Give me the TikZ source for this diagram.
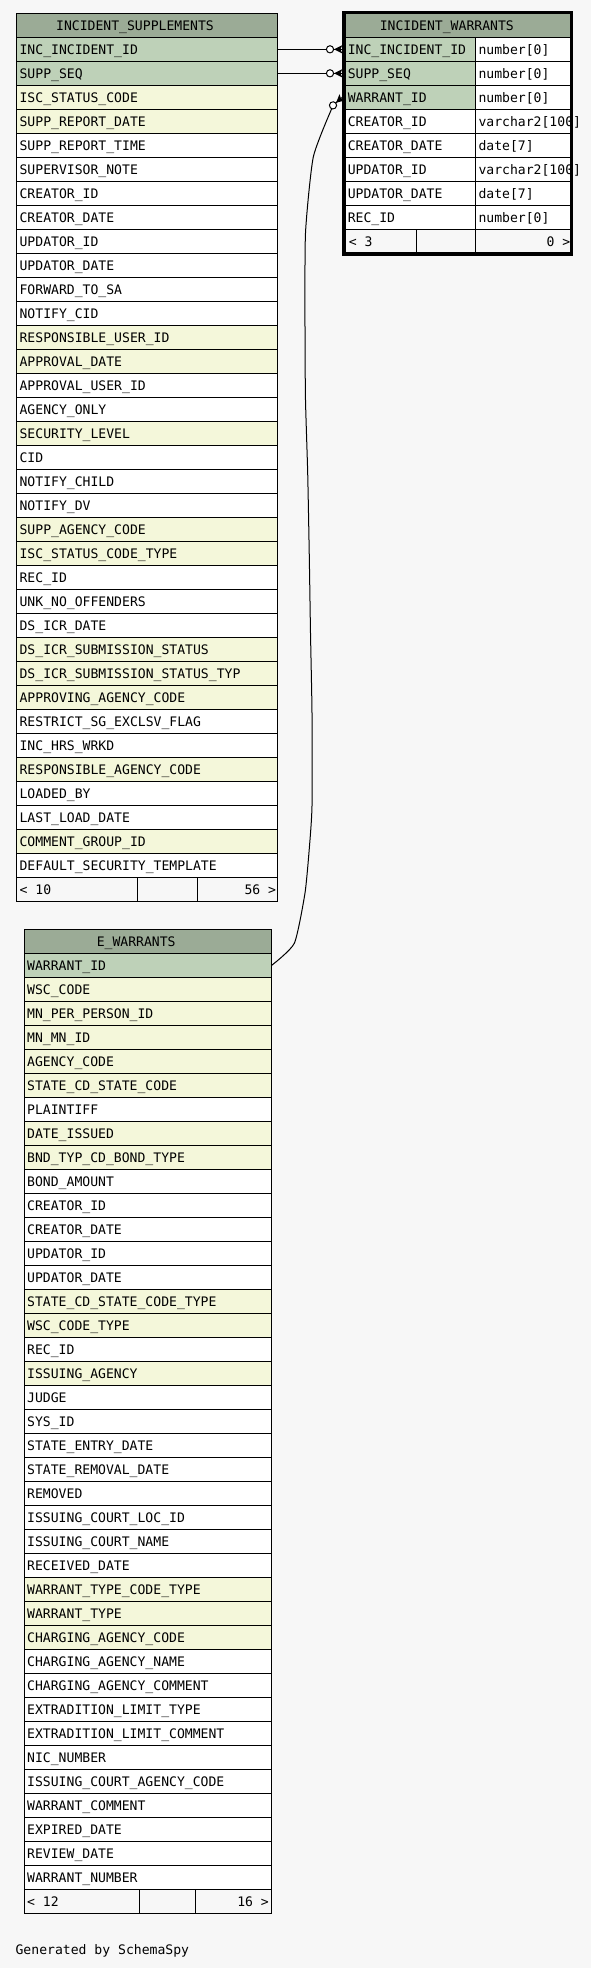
\documentclass[tikz,border=0pt]{standalone}
\usepackage{fontspec}
\newfontfamily\mono{DejaVu Sans Mono}
\definecolor{bgc}{HTML}{F7F7F7}
\definecolor{hdrc}{HTML}{9BAB96}
\definecolor{pkc}{HTML}{BED1B8}
\definecolor{idxc}{HTML}{F4F7DA}
\tikzset{
  mfont/.style={font=\mono\fontsize{13.1}{15}\selectfont},
  rowtext/.style={mfont, anchor=base west, inner sep=0pt},
  hdrtext/.style={mfont, anchor=base, inner sep=0pt},
  foottext/.style={mfont, anchor=base east, inner sep=0pt},
  gridline/.style={line width=1pt, draw=black},
  conn/.style={line width=1pt, draw=black},
  crowodot/.pic={
    \draw[line width=1pt, fill=white] (-12.3,0) circle[radius=3.6];
    \fill[black] (-8.2,0) -- (0,-4.2) -- (-1.8,0) -- (0,4.2) -- cycle;
    \draw[line width=1pt] (-8.7,0) -- (0,0);
  }
}
\begin{document}
\begin{tikzpicture}[x=1pt,y=-1pt]
\useasboundingbox (0,0) rectangle (591,1968);
\fill[bgc] (0,0) rectangle (591,1968);

% ---------------- INCIDENT_SUPPLEMENTS ----------------
\def\xa{16.7}\def\xb{277.7}\def\yt{13.3}
\fill[hdrc] (\xa,\yt) rectangle (\xb,\yt+24);
\node[hdrtext] (is-h) at (135,\yt+16.8) {INCIDENT\_SUPPLEMENTS};
\foreach[count=\i] \t/\c in {INC\_INCIDENT\_ID/pkc,
 SUPP\_SEQ/pkc,
 ISC\_STATUS\_CODE/idxc,
 SUPP\_REPORT\_DATE/idxc,
 SUPP\_REPORT\_TIME/white,
 SUPERVISOR\_NOTE/white,
 CREATOR\_ID/white,
 CREATOR\_DATE/white,
 UPDATOR\_ID/white,
 UPDATOR\_DATE/white,
 FORWARD\_TO\_SA/white,
 NOTIFY\_CID/white,
 RESPONSIBLE\_USER\_ID/idxc,
 APPROVAL\_DATE/idxc,
 APPROVAL\_USER\_ID/white,
 AGENCY\_ONLY/white,
 SECURITY\_LEVEL/idxc,
 CID/white,
 NOTIFY\_CHILD/white,
 NOTIFY\_DV/white,
 SUPP\_AGENCY\_CODE/idxc,
 ISC\_STATUS\_CODE\_TYPE/idxc,
 REC\_ID/white,
 UNK\_NO\_OFFENDERS/white,
 DS\_ICR\_DATE/white,
 DS\_ICR\_SUBMISSION\_STATUS/idxc,
 DS\_ICR\_SUBMISSION\_STATUS\_TYP/idxc,
 APPROVING\_AGENCY\_CODE/idxc,
 RESTRICT\_SG\_EXCLSV\_FLAG/white,
 INC\_HRS\_WRKD/white,
 RESPONSIBLE\_AGENCY\_CODE/idxc,
 LOADED\_BY/white,
 LAST\_LOAD\_DATE/white,
 COMMENT\_GROUP\_ID/idxc,
 DEFAULT\_SECURITY\_TEMPLATE/white}{
  \fill[\c] (\xa,\yt+24*\i) rectangle (\xb,\yt+24*\i+24);
  \node[rowtext] (is-\i) at (\xa+2.7,\yt+24*\i+16.8) {\t};
}
\foreach \i in {1,...,36} \draw[gridline] (\xa,\yt+24*\i) -- (\xb,\yt+24*\i);
\draw[gridline] (137.3,\yt+24*36) -- (137.3,\yt+24*37);
\draw[gridline] (197.7,\yt+24*36) -- (197.7,\yt+24*37);
\draw[gridline] (\xa,\yt) rectangle (\xb,\yt+24*37);
\node[rowtext] (is-fl) at (\xa+2.7,\yt+24*36+16.8) {< 10};
\node[foottext] (is-fr) at (276.3,\yt+24*36+16.8) {56 >};
\coordinate (isr1) at (\xb,\yt+36);
\coordinate (isr2) at (\xb,\yt+60);

% ---------------- E_WARRANTS ----------------
\def\xa{24.3}\def\xb{271.7}\def\yt{929.3}
\fill[hdrc] (\xa,\yt) rectangle (\xb,\yt+24);
\node[hdrtext] (ew-h) at (136.2,\yt+16.8) {E\_WARRANTS};
\foreach[count=\i] \t/\c in {WARRANT\_ID/pkc,
 WSC\_CODE/idxc,
 MN\_PER\_PERSON\_ID/idxc,
 MN\_MN\_ID/idxc,
 AGENCY\_CODE/idxc,
 STATE\_CD\_STATE\_CODE/idxc,
 PLAINTIFF/white,
 DATE\_ISSUED/idxc,
 BND\_TYP\_CD\_BOND\_TYPE/idxc,
 BOND\_AMOUNT/white,
 CREATOR\_ID/white,
 CREATOR\_DATE/white,
 UPDATOR\_ID/white,
 UPDATOR\_DATE/white,
 STATE\_CD\_STATE\_CODE\_TYPE/idxc,
 WSC\_CODE\_TYPE/idxc,
 REC\_ID/white,
 ISSUING\_AGENCY/idxc,
 JUDGE/white,
 SYS\_ID/white,
 STATE\_ENTRY\_DATE/white,
 STATE\_REMOVAL\_DATE/white,
 REMOVED/white,
 ISSUING\_COURT\_LOC\_ID/white,
 ISSUING\_COURT\_NAME/white,
 RECEIVED\_DATE/white,
 WARRANT\_TYPE\_CODE\_TYPE/idxc,
 WARRANT\_TYPE/idxc,
 CHARGING\_AGENCY\_CODE/idxc,
 CHARGING\_AGENCY\_NAME/white,
 CHARGING\_AGENCY\_COMMENT/white,
 EXTRADITION\_LIMIT\_TYPE/white,
 EXTRADITION\_LIMIT\_COMMENT/white,
 NIC\_NUMBER/white,
 ISSUING\_COURT\_AGENCY\_CODE/white,
 WARRANT\_COMMENT/white,
 EXPIRED\_DATE/white,
 REVIEW\_DATE/white,
 WARRANT\_NUMBER/white}{
  \fill[\c] (\xa,\yt+24*\i) rectangle (\xb,\yt+24*\i+24);
  \node[rowtext] (ew-\i) at (\xa+2.7,\yt+24*\i+16.8) {\t};
}
\foreach \i in {1,...,40} \draw[gridline] (\xa,\yt+24*\i) -- (\xb,\yt+24*\i);
\draw[gridline] (139.3,\yt+24*40) -- (139.3,\yt+24*41);
\draw[gridline] (195.3,\yt+24*40) -- (195.3,\yt+24*41);
\draw[gridline] (\xa,\yt) rectangle (\xb,\yt+24*41);
\node[rowtext] (ew-fl) at (\xa+2.7,\yt+24*40+16.8) {< 12};
\node[foottext] (ew-fr) at (269,\yt+24*40+16.8) {16 >};
\coordinate (ewr1) at (\xb,\yt+36);

% ---------------- INCIDENT_WARRANTS ----------------
\def\xa{344}\def\xm{475.7}\def\xb{571.5}\def\yt{13.3}
\fill[hdrc] (\xa,\yt) rectangle (\xb,\yt+24);
\node[hdrtext] (iw-h) at (446.8,\yt+16.8) {INCIDENT\_WARRANTS};
\foreach[count=\i] \t/\u/\c in {INC\_INCIDENT\_ID/number[0]/pkc,
 SUPP\_SEQ/number[0]/pkc,
 WARRANT\_ID/number[0]/pkc,
 CREATOR\_ID/varchar2[100]/white,
 CREATOR\_DATE/date[7]/white,
 UPDATOR\_ID/varchar2[100]/white,
 UPDATOR\_DATE/date[7]/white,
 REC\_ID/number[0]/white}{
  \fill[\c] (\xa,\yt+24*\i) rectangle (\xm,\yt+24*\i+24);
  \fill[white] (\xm,\yt+24*\i) rectangle (\xb,\yt+24*\i+24);
  \node[rowtext] (iw-\i) at (\xa+3.6,\yt+24*\i+16.8) {\t};
  \node[rowtext] (iwt-\i) at (\xm+2.6,\yt+24*\i+16.8) {\u};
}
\foreach \i in {1,...,9} \draw[gridline] (\xa,\yt+24*\i) -- (\xb,\yt+24*\i);
\draw[gridline] (\xm,\yt+24) -- (\xm,\yt+24*10);
\draw[gridline] (416.7,\yt+24*9) -- (416.7,\yt+24*10);
\node[rowtext] (iw-fl) at (\xa+4.6,\yt+24*9+16.8) {< 3};
\node[foottext] (iw-fr) at (570.4,\yt+24*9+16.8) {0 >};
\draw[line width=3.4pt] (344,12.4) rectangle (571.6,254);
\coordinate (iwl1) at (342.3,\yt+36);
\coordinate (iwl2) at (342.3,\yt+60);
\coordinate (iwl3) at (342.3,\yt+84);

% ---------------- connectors ----------------
\draw[conn] (isr1) -- ([xshift=-15.9pt]iwl1);
\pic at (iwl1) {crowodot};
\draw[conn] (isr2) -- ([xshift=-15.9pt]iwl2);
\pic at (iwl2) {crowodot};
\coordinate (c3) at (331.7,108.7);
\draw[conn] plot[smooth, tension=0.35] coordinates {(ewr1) (294.3,943.3) (305,893) (309.5,846) (312,806) (312,713) (310.5,633) (309.3,557) (307.7,473) (305.5,400) (305,330) (305.5,233) (313.3,157) (c3)};
\pic[rotate=41] at (iwl3) {crowodot};

\node[rowtext] (gen) at (15.4,1954) {Generated by SchemaSpy};
\end{tikzpicture}
\end{document}
